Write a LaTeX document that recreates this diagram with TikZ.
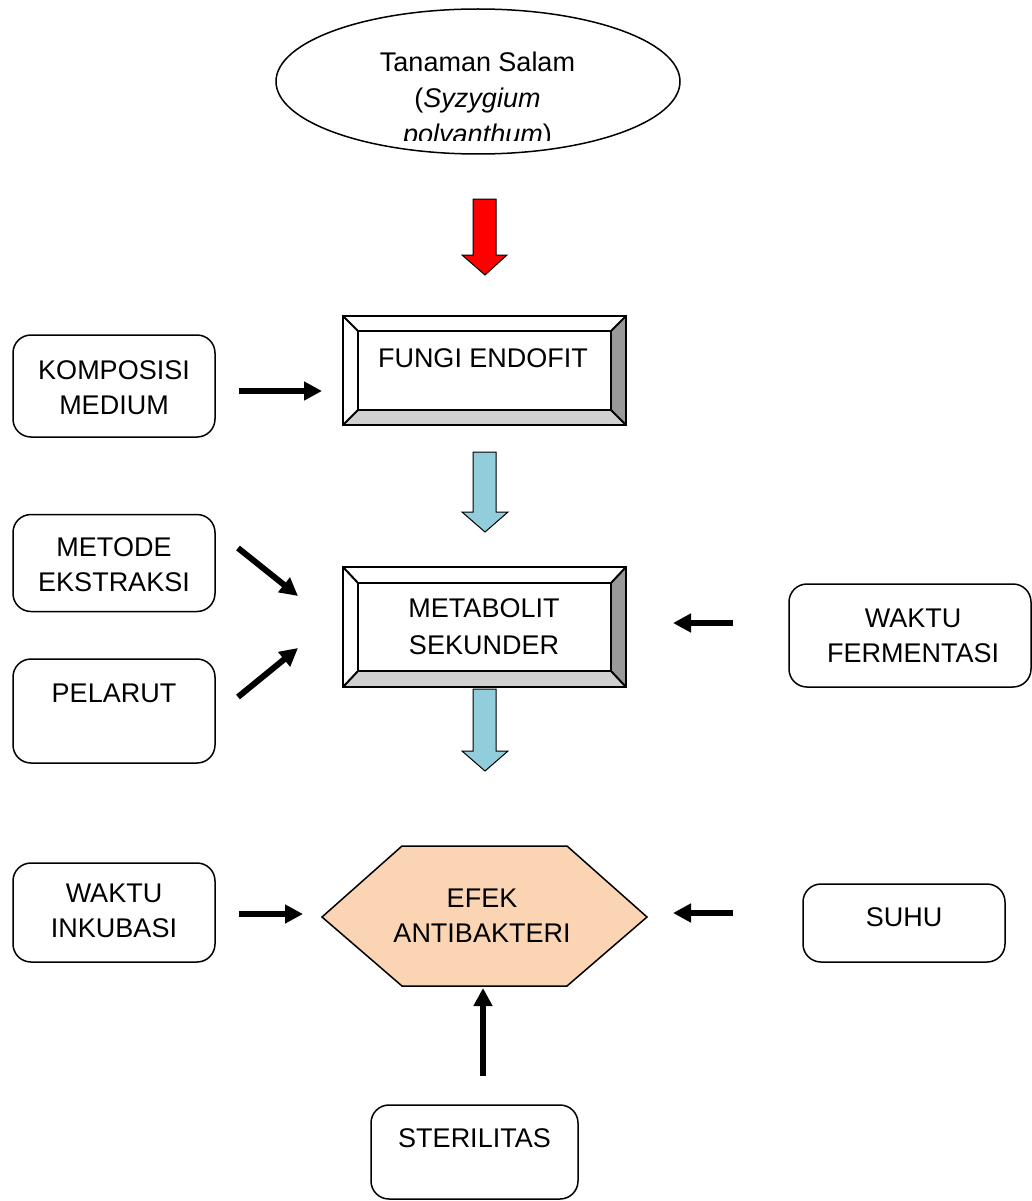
\documentclass[tikz,border=0pt]{standalone}
\usepackage{fontspec}
\setmainfont{Liberation Sans}
\usetikzlibrary{arrows.meta,shapes.geometric}
\definecolor{blockblue}{HTML}{92CDDC}
\definecolor{hexfill}{HTML}{FBD4B4}
\definecolor{bevdark}{HTML}{999999}
\definecolor{bevlight}{HTML}{D0D0D0}
\begin{document}
\begin{tikzpicture}[x=1pt,y=-1pt,
  txt/.style={font=\fontsize{27}{35}\selectfont, align=center, inner sep=0pt},
  rbox/.style={draw, line width=1.5pt, rounded corners=18pt, inner sep=0pt},
  fatarrow/.style={line width=6pt, -{Triangle[length=18pt,width=18pt]}},
  blockarrow/.style={draw=black, line width=1pt, line join=miter},
  bevline/.style={line width=2pt, line join=miter}
]
\fill[white] (0,0) rectangle (1032,1201);
\useasboundingbox (0,0) rectangle (1032,1201);

% ---- top ellipse
\node[draw, ellipse, line width=1.5pt, minimum width=404pt, minimum height=145pt, inner sep=0pt] (salam) at (478,81.5) {};
\node[txt, anchor=base] (salam1) at (477.5,72) {Tanaman Salam};
\node[txt, anchor=base] (salam2) at (477.5,108) {(\textit{Syzygium}};
\begin{scope}
  \clip (300,0) rectangle (660,141);
  \node[txt, anchor=base] (salam3) at (477.5,144) {\textit{polyanthum})};
\end{scope}

% ---- red block arrow
\filldraw[blockarrow, fill=red] (473,199) -- (496,199) -- (496,255) -- (507,255) -- (485,275) -- (462,255) -- (473,255) -- cycle;

% ---- FUNGI ENDOFIT bevel box
\node[minimum width=283pt, minimum height=109pt, inner sep=0pt] (fungi) at (484.5,370.5) {};
\fill[white] (343,316) -- (626,316) -- (611,331) -- (358,331) -- cycle;
\fill[white] (343,316) -- (358,331) -- (358,410) -- (343,425) -- cycle;
\fill[bevdark] (626,316) -- (626,425) -- (611,410) -- (611,331) -- cycle;
\fill[bevlight] (343,425) -- (626,425) -- (611,410) -- (358,410) -- cycle;
\draw[bevline] (343,316) rectangle (626,425);
\draw[bevline] (358,331) rectangle (611,410);
\draw[bevline] (343,316) -- (358,331) (626,316) -- (611,331) (343,425) -- (358,410) (626,425) -- (611,410);
\node[txt] (fungitxt) at (483,358) {FUNGI ENDOFIT};

% ---- blue block arrow 1
\filldraw[blockarrow, fill=blockblue] (473,452) -- (496,452) -- (496,512) -- (508,512) -- (485,532) -- (462,512) -- (473,512) -- cycle;

% ---- METABOLIT SEKUNDER bevel box
\node[minimum width=283pt, minimum height=120pt, inner sep=0pt] (meta) at (484.5,627) {};
\fill[white] (343,567) -- (626,567) -- (611,583) -- (358,583) -- cycle;
\fill[white] (343,567) -- (358,583) -- (358,671) -- (343,687) -- cycle;
\fill[bevdark] (626,567) -- (626,687) -- (611,671) -- (611,583) -- cycle;
\fill[bevlight] (343,687) -- (626,687) -- (611,671) -- (358,671) -- cycle;
\draw[bevline] (343,567) rectangle (626,687);
\draw[bevline] (358,583) rectangle (611,671);
\draw[bevline] (343,567) -- (358,583) (626,567) -- (611,583) (343,687) -- (358,671) (626,687) -- (611,671);
\node[txt, font=\fontsize{27}{37}\selectfont] (metatxt) at (484,626.5) {METABOLIT\\SEKUNDER};

% ---- blue block arrow 2
\filldraw[blockarrow, fill=blockblue] (473,689) -- (496,689) -- (496,751) -- (508,751) -- (485,771) -- (462,751) -- (473,751) -- cycle;

% ---- hexagon
\filldraw[fill=hexfill, line width=1.5pt, line join=miter] (322,917) -- (402,846) -- (567,846) -- (647,917) -- (567,986) -- (402,986) -- cycle;
\node[txt] (efek) at (482,915.5) {EFEK\\ANTIBAKTERI};

% ---- side boxes
\node[rbox, minimum width=202pt, minimum height=102pt] (komp) at (114,386) {};
\node[txt] (komptxt) at (114,387.5) {KOMPOSISI\\MEDIUM};

\node[rbox, minimum width=202pt, minimum height=97pt] (metode) at (114,563) {};
\node[txt] (metodetxt) at (114,564.5) {METODE\\EKSTRAKSI};

\node[rbox, minimum width=202pt, minimum height=104pt] (pelarut) at (114,711) {};
\node[txt] (pelaruttxt) at (114,693) {PELARUT};

\node[rbox, minimum width=242pt, minimum height=103pt] (ferm) at (910,635.5) {};
\node[txt] (fermtxt) at (913,635.5) {WAKTU\\FERMENTASI};

\node[rbox, minimum width=202pt, minimum height=99pt] (inku) at (114,912.5) {};
\node[txt] (inkutxt) at (114,911) {WAKTU\\INKUBASI};

\node[rbox, minimum width=202pt, minimum height=78pt] (suhu) at (904,923) {};
\node[txt] (suhutxt) at (904,917) {SUHU};

\node[rbox, minimum width=207pt, minimum height=94pt] (steril) at (474.5,1152) {};
\node[txt] (steriltxt) at (474.5,1138) {STERILITAS};

% ---- connector end points
\coordinate (kA) at (239,391);  \coordinate (kB) at (322,391);
\coordinate (mA) at (238,548);  \coordinate (mB) at (298,596);
\coordinate (pA) at (238,697);  \coordinate (pB) at (298,648);
\coordinate (fA) at (733,623);  \coordinate (fB) at (673,623);
\coordinate (iA) at (239,914);  \coordinate (iB) at (303,914);
\coordinate (sA) at (733,913);  \coordinate (sB) at (673,913);
\coordinate (tA) at (483,1076); \coordinate (tB) at (483,988);

\draw[fatarrow] (kA) -- (kB);
\draw[fatarrow] (mA) -- (mB);
\draw[fatarrow] (pA) -- (pB);
\draw[fatarrow] (fA) -- (fB);
\draw[fatarrow] (iA) -- (iB);
\draw[fatarrow] (sA) -- (sB);
\draw[fatarrow] (tA) -- (tB);
\end{tikzpicture}
\end{document}
